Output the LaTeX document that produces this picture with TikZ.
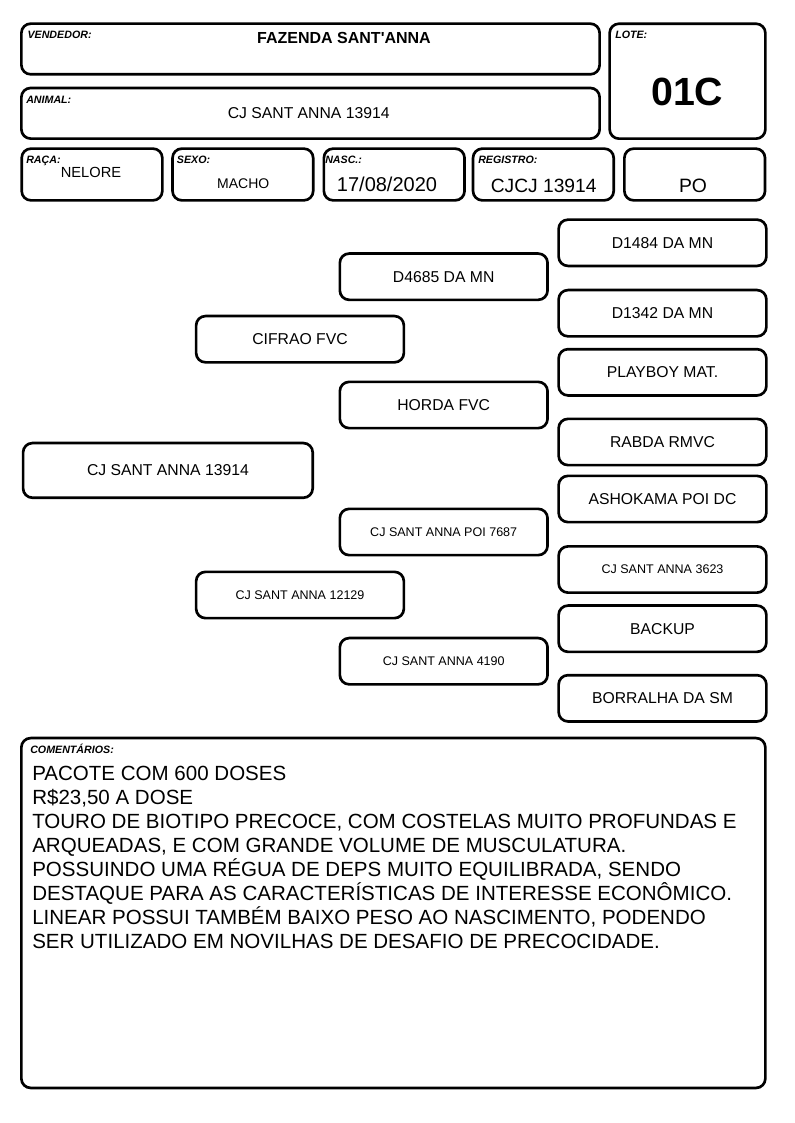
\documentclass[tikz,border=0pt]{standalone}
\usepackage{fontspec}
\setmainfont{Liberation Sans}

\begin{document}
\begin{tikzpicture}[x=0.75pt, y=-0.75pt]

        \useasboundingbox (0,0) rectangle (794,1123);

        \begin{scope}[every node/.style={draw, line width=2pt, rounded corners=7pt, inner sep=0pt, outer sep=0pt},
                      field/.style={minimum width=105.5pt, minimum height=38.8pt},
                      ped/.style={minimum width=155.8pt, minimum height=34.7pt, font=\fontsize{11.8}{14}\selectfont},
                      pedsmall/.style={ped, font=\fontsize{9.4}{11}\selectfont}]
          % header
          \node[minimum width=433.7pt, minimum height=38pt] (vendedor) at (310.5,49) {};
          \node[minimum width=433.7pt, minimum height=38pt] (animal) at (310.5,113.3) {};
          \node[minimum width=116.8pt, minimum height=86.2pt] (lote) at (687.5,81.2) {};
          \node[field] (raca) at (92,174.5) {};
          \node[field] (sexo) at (242.85,174.5) {};
          \node[field] (nasc) at (394.2,174.5) {};
          \node[field] (registro) at (543.35,174.5) {};
          \node[field] (categoria) at (694.7,174.5) {};

          % pedigree
          \node[ped, minimum width=217.2pt, minimum height=41pt] (p) at (167.9,470.4) {CJ SANT ANNA 13914};
          \node[ped] (s) at (300,339.2) {CIFRAO FVC};
          \node[pedsmall] (d) at (300,595) {CJ SANT ANNA 12129};
          \node[ped] (ss) at (443.7,276.7) {D4685 DA MN};
          \node[ped] (sd) at (443.7,405) {HORDA FVC};
          \node[pedsmall] (ds) at (443.7,532) {CJ SANT ANNA POI 7687};
          \node[pedsmall] (dd) at (443.7,661.2) {CJ SANT ANNA 4190};
          \node[ped] (sss) at (662.5,242.8) {D1484 DA MN};
          \node[ped] (ssd) at (662.5,313.2) {D1342 DA MN};
          \node[ped] (sds) at (662.5,372.3) {PLAYBOY MAT.};
          \node[ped] (sdd) at (662.5,442) {RABDA RMVC};
          \node[ped] (dss) at (662.5,499) {ASHOKAMA POI DC};
          \node[pedsmall] (dsd) at (662.5,569.5) {CJ SANT ANNA 3623};
          \node[ped] (dds) at (662.5,628.7) {BACKUP};
          \node[ped] (ddd) at (662.5,698.3) {BORRALHA DA SM};

          % comments
          \node[minimum width=558pt, minimum height=262.4pt] (comentarios) at (393.35,913) {};
        \end{scope}

        \begin{scope}[every node/.style={inner sep=0pt},
                      tag/.style={anchor=base west, font=\fontsize{8}{9}\selectfont\bfseries\itshape},
                      value/.style={anchor=base}]
          \node[tag] (vendedortag) at (27.3,38.3) {VENDEDOR:};
          \node[tag] (animaltag) at (26,103.3) {ANIMAL:};
          \node[tag] (lotetag) at (615,39) {LOTE:};
          \node[tag] (racatag) at (26,163.3) {RAÇA:};
          \node[tag] (sexotag) at (176.7,163.3) {SEXO:};
          \node[tag] (nasctag) at (325,163.3) {NASC.:};
          \node[tag] (registrotag) at (478,164) {REGISTRO:};
          \node[tag] (comentariostag) at (30,753) {COMENTÁRIOS:};

          \node[value, font=\fontsize{12}{14}\selectfont\bfseries] (vendedorval) at (344,43.3) {FAZENDA SANT\textquotesingle ANNA};
          \node[value, font=\fontsize{11.8}{14}\selectfont] (animalval) at (308.7,118.3) {CJ SANT ANNA 13914};
          \node[value, font=\fontsize{29.5}{32}\selectfont\bfseries] (loteval) at (687.2,105.7) {01C};
          \node[value, font=\fontsize{11}{13}\selectfont] (racaval) at (91,178) {NELORE};
          \node[value, font=\fontsize{10.5}{12}\selectfont] (sexoval) at (243.3,189) {MACHO};
          \node[value, font=\fontsize{15}{17}\selectfont] (nascval) at (387,191.7) {17/08/2020};
          \node[value, font=\fontsize{14.4}{17}\selectfont] (registroval) at (543.7,192.3) {CJCJ 13914};
          \node[value, font=\fontsize{14.5}{17}\selectfont] (categoriaval) at (693,192.3) {PO};

          % base of a multi-line node is its last line
          \node[anchor=base west, align=left, font=\fontsize{15.4}{18}\selectfont] (texto) at (32,948)
            {PACOTE COM 600 DOSES\\
             R\$23,50 A DOSE\\
             TOURO DE BIOTIPO PRECOCE, COM COSTELAS MUITO PROFUNDAS E\\
             ARQUEADAS, E COM GRANDE VOLUME DE MUSCULATURA.\\
             POSSUINDO UMA RÉGUA DE DEPS MUITO EQUILIBRADA, SENDO\\
             DESTAQUE PARA AS CARACTERÍSTICAS DE INTERESSE ECONÔMICO.\\
             LINEAR POSSUI TAMBÉM BAIXO PESO AO NASCIMENTO, PODENDO\\
             SER UTILIZADO EM NOVILHAS DE DESAFIO DE PRECOCIDADE.};
        \end{scope}

      \end{tikzpicture}
\end{document}
